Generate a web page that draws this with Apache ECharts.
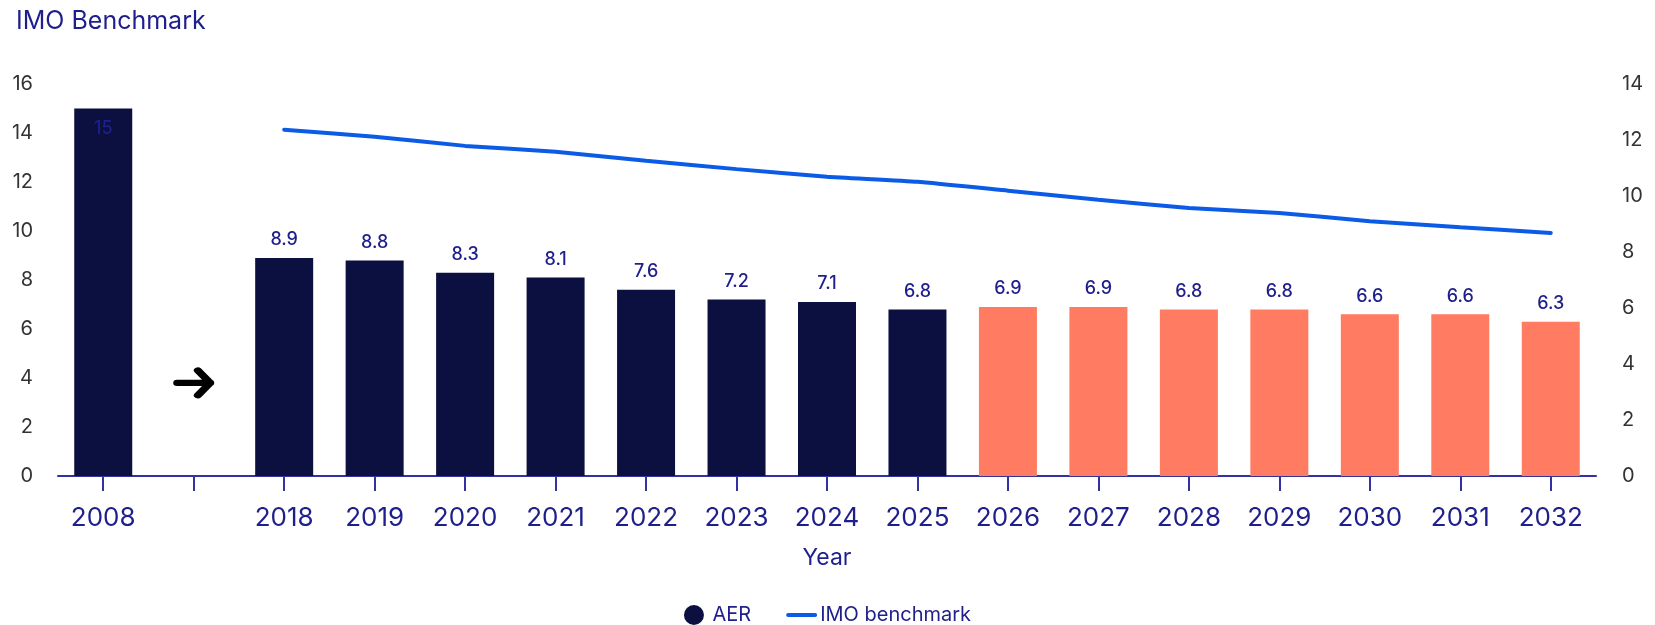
<!DOCTYPE html>
<html>
<head>
<meta charset="utf-8">
<script src="https://cdn.jsdelivr.net/npm/echarts@6/dist/echarts.min.js"></script>
<style>
html,body{margin:0;padding:0;background:#fff;}
#c{width:1655px;height:625px;}
</style>
</head>
<body>
<div id="c"></div>
<script>
// ---- data ----
const categories = ['2008', '', '2018', '2019', '2020', '2021', '2022', '2023', '2024', '2025', '2026', '2027', '2028', '2029', '2030', '2031', '2032'];
const aerValues = [15, null, 8.9, 8.8, 8.3, 8.1, 7.6, 7.2, 7.1, 6.8, 6.9, 6.9, 6.8, 6.8, 6.6, 6.6, 6.3];
const imoBenchmark = [null, null, 12.37, 12.12, 11.79, 11.58, 11.26, 10.96, 10.69, 10.51, 10.19, 9.87, 9.57, 9.39, 9.10, 8.88, 8.68];
const firstProjectedYear = '2026';
const arrowValue = [null, 3.8, null, null, null, null, null, null, null, null, null, null, null, null, null, null, null];
const leftTicks = { min: 0, max: 16, interval: 2 };
const rightTicks = { min: 0, max: 14, interval: 2 };

const NAVY = '#0b1040';
const SALMON = '#ff7b62';
const TEXT_BLUE = '#1e1e8c';
const AXIS_BLUE = '#3232a2';
const LINE_BLUE = '#0b5be6';
const FONT = 'Inter, "Noto Sans", sans-serif';

const projIdx = categories.indexOf(firstProjectedYear);
const barData = aerValues.map((v, i) => {
  if (v === null) return null;
  const item = { value: v, itemStyle: { color: i >= projIdx ? SALMON : NAVY } };
  if (i === 0) item.label = { position: 'insideTop', distance: 11 };
  return item;
});

const chart = echarts.init(document.getElementById('c'), null, { renderer: 'canvas' });
chart.setOption({
  animation: false,
  backgroundColor: '#fff',
  textStyle: { fontFamily: FONT },
  title: {
    text: 'IMO Benchmark',
    left: 11, top: 4,
    textStyle: { fontFamily: FONT, fontSize: 25, fontWeight: 'normal', color: TEXT_BLUE }
  },
  legend: {
    data: [
      { name: 'AER', icon: 'circle' },
      {
        name: 'IMO benchmark',
        itemStyle: { color: 'rgba(0,0,0,0)', borderColor: 'rgba(0,0,0,0)', borderWidth: 0 },
        lineStyle: { color: LINE_BLUE, width: 4, cap: 'round' }
      }
    ],
    top: 600, left: 'center',
    itemWidth: 27, itemHeight: 20, itemGap: 35,
    textStyle: { fontFamily: FONT, fontSize: 20, color: TEXT_BLUE }
  },
  grid: { left: 58, right: 59, top: 84, bottom: 149, containLabel: false },
  xAxis: {
    type: 'category',
    data: categories,
    name: 'Year',
    nameLocation: 'middle',
    nameGap: 71,
    nameTextStyle: { fontFamily: FONT, fontSize: 23, color: TEXT_BLUE },
    axisLine: { show: true, lineStyle: { color: AXIS_BLUE, width: 2 } },
    axisTick: { show: true, alignWithLabel: true, length: 15, interval: 0, lineStyle: { color: AXIS_BLUE, width: 2 } },
    axisLabel: { fontFamily: FONT, fontSize: 26, color: TEXT_BLUE, margin: 29, interval: 0 }
  },
  yAxis: [
    {
      type: 'value', min: leftTicks.min, max: leftTicks.max, interval: leftTicks.interval,
      splitLine: { show: false }, axisLine: { show: false }, axisTick: { show: false },
      axisLabel: { fontFamily: FONT, fontSize: 20, color: '#333', margin: 25 }
    },
    {
      type: 'value', min: rightTicks.min, max: rightTicks.max, interval: rightTicks.interval,
      splitLine: { show: false }, axisLine: { show: false }, axisTick: { show: false },
      axisLabel: { fontFamily: FONT, fontSize: 20, color: '#333', margin: 26 }
    }
  ],
  series: [
    {
      name: 'AER',
      type: 'bar',
      data: barData,
      barWidth: 58,
      itemStyle: { color: NAVY },
      label: {
        show: true, position: 'top', distance: 9,
        fontFamily: FONT, fontSize: 18, fontWeight: 500, color: TEXT_BLUE
      }
    },
    {
      name: 'IMO benchmark',
      type: 'line',
      yAxisIndex: 1,
      data: imoBenchmark,
      symbol: 'none',
      smooth: 0.15,
      connectNulls: false,
      itemStyle: { color: LINE_BLUE },
      lineStyle: { color: LINE_BLUE, width: 4, cap: 'round' }
    },
    {
      name: 'arrow',
      type: 'scatter',
      data: arrowValue,
      symbol: 'path://M2,14 L34,14 M22,3 L34,14 L22,25',
      symbolSize: [33, 25],
      silent: true,
      itemStyle: { color: 'none', borderColor: '#000', borderWidth: 7, borderCap: 'round', borderJoin: 'round', opacity: 1 }
    }
  ]
});
</script>
</body>
</html>
